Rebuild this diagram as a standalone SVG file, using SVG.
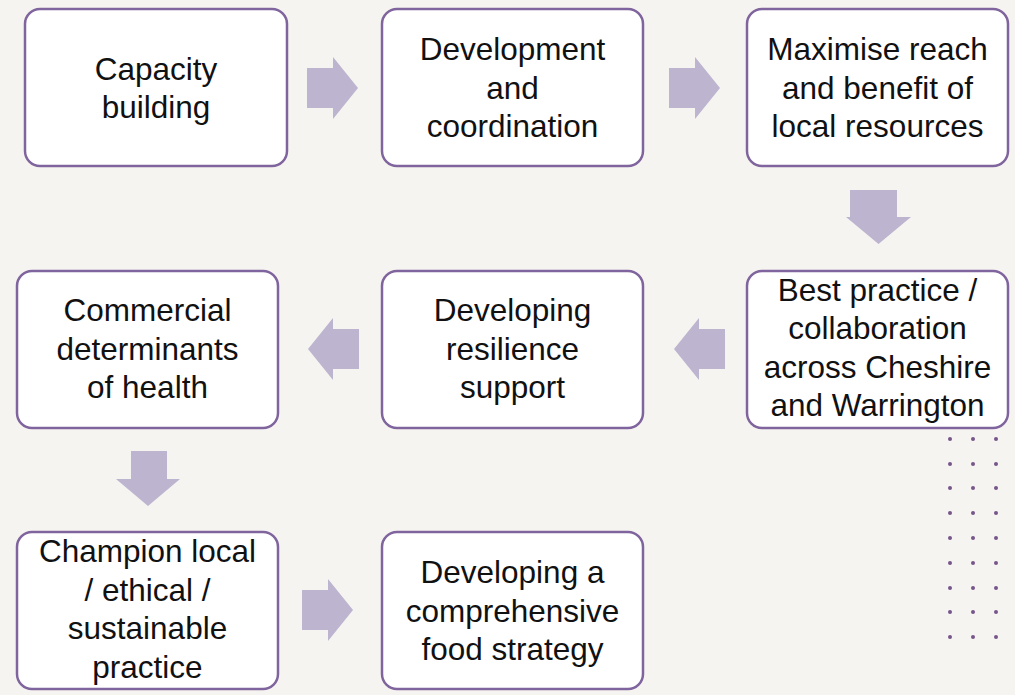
<svg xmlns="http://www.w3.org/2000/svg" width="1015" height="695" viewBox="0 0 1015 695">
<style>
.box{fill:#ffffff;stroke:#7f649d;stroke-width:2.5}
.arr{fill:#bdb4cf}
.t{font-family:"Liberation Sans",Arial,sans-serif;font-size:31.5px;fill:#111;text-anchor:middle}
.dot{fill:#76558a}
</style>
<defs>
<path id="ar" d="M0,11 H26 V0 L51,31 L26,62 V51 H0 Z"/>
</defs>
<rect width="1015" height="695" fill="#f6f4f1"/>
<g id="dots">
<g class="dot">
<circle cx="950" cy="439" r="2"/><circle cx="973" cy="439" r="2"/><circle cx="996" cy="439" r="2"/>
<circle cx="950" cy="464" r="2"/><circle cx="973" cy="464" r="2"/><circle cx="996" cy="464" r="2"/>
<circle cx="950" cy="488" r="2"/><circle cx="973" cy="488" r="2"/><circle cx="996" cy="488" r="2"/>
<circle cx="950" cy="513" r="2"/><circle cx="973" cy="513" r="2"/><circle cx="996" cy="513" r="2"/>
<circle cx="950" cy="538" r="2"/><circle cx="973" cy="538" r="2"/><circle cx="996" cy="538" r="2"/>
<circle cx="950" cy="563" r="2"/><circle cx="973" cy="563" r="2"/><circle cx="996" cy="563" r="2"/>
<circle cx="950" cy="588" r="2"/><circle cx="973" cy="588" r="2"/><circle cx="996" cy="588" r="2"/>
<circle cx="950" cy="612" r="2"/><circle cx="973" cy="612" r="2"/><circle cx="996" cy="612" r="2"/>
<circle cx="950" cy="637" r="2"/><circle cx="973" cy="637" r="2"/><circle cx="996" cy="637" r="2"/>
</g>
</g>
<g id="connectors" class="arr">
<use href="#ar" transform="translate(307,57)"/>
<use href="#ar" transform="translate(669,57)"/>
<path d="M850,190 H897 V217 H911 L878.5,244 L846,217 H850 Z"/>
<use href="#ar" transform="translate(725,318) scale(-1,1)"/>
<use href="#ar" transform="translate(359,318) scale(-1,1)"/>
<path d="M131,451 H167 V479 H180 L148,506 L116,479 H131 Z"/>
<use href="#ar" transform="translate(302,579)"/>
</g>
<g id="n1"><rect class="box" x="25" y="9" width="262" height="157" rx="15"/>
<text class="t"><tspan x="156" y="79.5">Capacity</tspan><tspan x="156" y="118">building</tspan></text></g>
<g id="n2"><rect class="box" x="382" y="9" width="261" height="157" rx="15"/>
<text class="t"><tspan x="512.5" y="60">Development</tspan><tspan x="512.5" y="98.5">and</tspan><tspan x="512.5" y="137">coordination</tspan></text></g>
<g id="n3"><rect class="box" x="747" y="9" width="261" height="157" rx="15"/>
<text class="t"><tspan x="877.5" y="60">Maximise reach</tspan><tspan x="877.5" y="98.5">and benefit of</tspan><tspan x="877.5" y="137">local resources</tspan></text></g>
<g id="n4"><rect class="box" x="747" y="271" width="261" height="157" rx="15"/>
<text class="t"><tspan x="877.5" y="300.5">Best practice /</tspan><tspan x="877.5" y="339">collaboration</tspan><tspan x="877.5" y="377.5">across Cheshire</tspan><tspan x="877.5" y="416">and Warrington</tspan></text></g>
<g id="n5"><rect class="box" x="382" y="271" width="261" height="157" rx="15"/>
<text class="t"><tspan x="512.5" y="321">Developing</tspan><tspan x="512.5" y="359.5">resilience</tspan><tspan x="512.5" y="398">support</tspan></text></g>
<g id="n6"><rect class="box" x="17" y="271" width="261" height="157" rx="15"/>
<text class="t"><tspan x="147.5" y="321">Commercial</tspan><tspan x="147.5" y="359.5">determinants</tspan><tspan x="147.5" y="398">of health</tspan></text></g>
<g id="n7"><rect class="box" x="17" y="532" width="261" height="157" rx="15"/>
<text class="t"><tspan x="147.5" y="562">Champion local</tspan><tspan x="147.5" y="600.5">/ ethical /</tspan><tspan x="147.5" y="639">sustainable</tspan><tspan x="147.5" y="677.5">practice</tspan></text></g>
<g id="n8"><rect class="box" x="382" y="532" width="261" height="157" rx="15"/>
<text class="t"><tspan x="512.5" y="583">Developing a</tspan><tspan x="512.5" y="621.5">comprehensive</tspan><tspan x="512.5" y="660">food strategy</tspan></text></g>
</svg>
